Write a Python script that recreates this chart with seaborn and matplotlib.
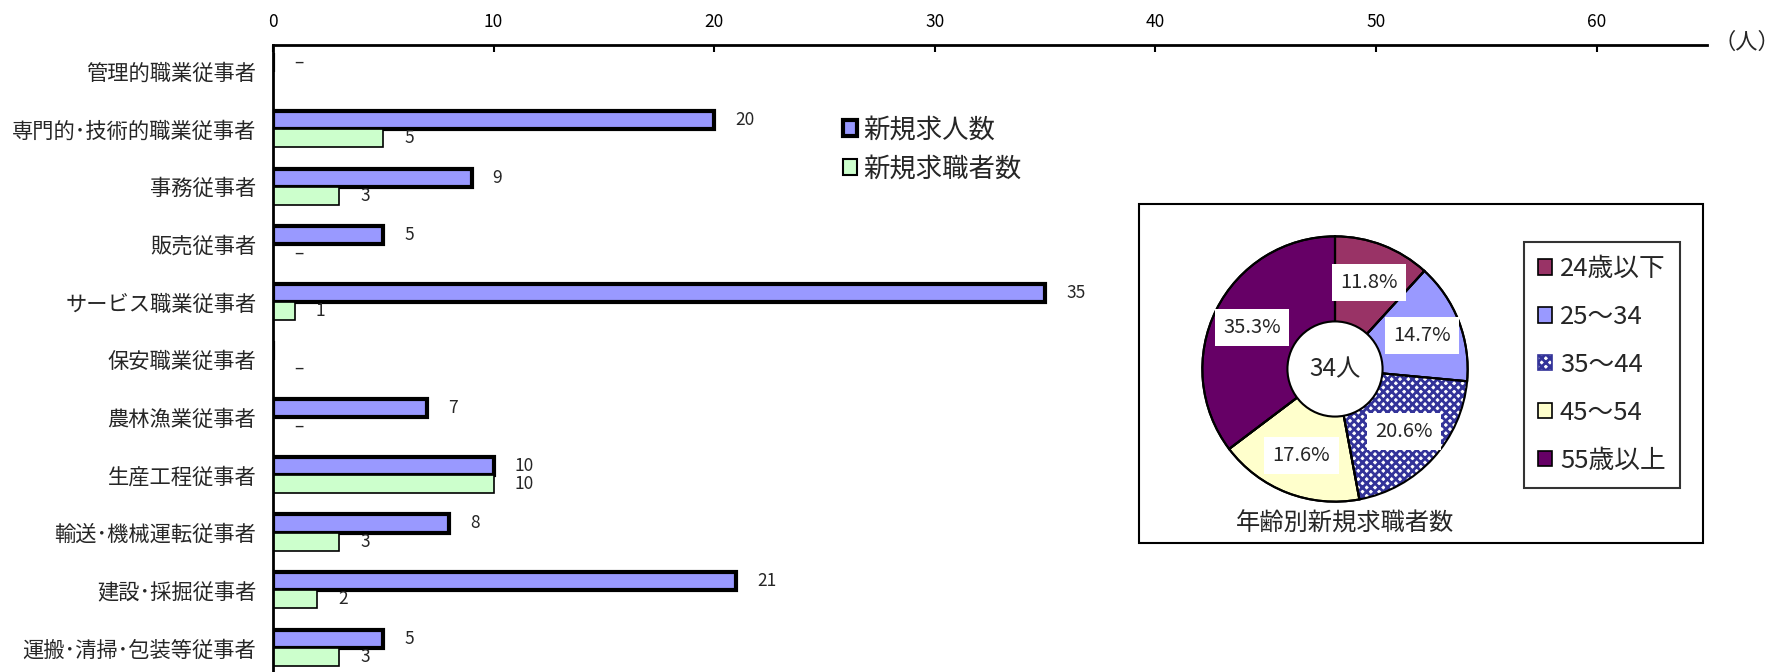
import matplotlib
matplotlib.use('Agg')
import matplotlib.pyplot as plt
from matplotlib.patches import Patch, Rectangle, Circle
import numpy as np
import pandas as pd
import seaborn as sns

categories = ['管理的職業従事者', '専門的･技術的職業従事者', '事務従事者', '販売従事者',
              'サービス職業従事者', '保安職業従事者', '農林漁業従事者', '生産工程従事者',
              '輸送･機械運転従事者', '建設･採掘従事者', '運搬･清掃･包装等従事者']
# None = no label, 0 = shown as "–"
kyujin = [0, 20, 9, 5, 35, None, 7, 10, 8, 21, 5]
kyushoku = [None, 5, 3, 0, 1, 0, 0, 10, 3, 2, 3]
series_names = ['新規求人数', '新規求職者数']

age_labels = ['24歳以下', '25～34', '35～44', '45～54', '55歳以上']
age_counts = [4, 5, 7, 6, 12]
total_label = '34人'
pie_title = '年齢別新規求職者数'

sns.set_style('white')
plt.rcParams['font.family'] = ['Noto Sans CJK JP', 'DejaVu Sans']
plt.rcParams['hatch.linewidth'] = 2.0

W, H = 1780, 672
fig = plt.figure(figsize=(W / 100, H / 100), dpi=100)

# ---- bar chart
rows = []
for c, a, b in zip(categories, kyujin, kyushoku):
    rows.append({'cat': c, 'series': series_names[0], 'val': 0 if a is None else a})
    rows.append({'cat': c, 'series': series_names[1], 'val': 0 if b is None else b})
df = pd.DataFrame(rows)

ax = fig.add_axes([273 / W, 0, (1707 - 273) / W, (672 - 45) / H])
ax.set_facecolor('none')
sns.barplot(data=df, x='val', y='cat', hue='series', hue_order=series_names,
            palette=['#9999FF', '#CCFFCC'], width=0.63, orient='h', ax=ax,
            legend=False, errorbar=None, saturation=1)

for cont, lw, raw in zip(ax.containers, [3.0, 1.2], [kyujin, kyushoku]):
    for bar in cont:
        bar.set_edgecolor('black')
        bar.set_linewidth(lw)
    labels = ['' if v is None else ('–' if v == 0 else str(v)) for v in raw]
    ax.bar_label(cont, labels=labels, padding=15, fontsize=12.5)

ax.set_xlim(0, 65)
ax.set_ylim(10.42, -0.46)
ax.set_xticks(np.arange(0, 61, 10))
ax.xaxis.tick_top()
ax.tick_params(axis='x', direction='in', length=5, width=1.5, labelsize=12.5, pad=10,
               top=True, bottom=False, colors='black')
ax.tick_params(axis='y', length=0, labelsize=15.3, pad=12)
ax.set_xlabel('')
ax.set_ylabel('')
for s in ['right', 'bottom']:
    ax.spines[s].set_visible(False)
for s in ['top', 'left']:
    ax.spines[s].set_linewidth(2)
    ax.spines[s].set_color('black')
fig.text(1747 / W, 1 - 42 / H, '（人）', fontsize=16, ha='center', va='center')

bar_handles = [Patch(facecolor='#9999FF', edgecolor='black', linewidth=3),
               Patch(facecolor='#CCFFCC', edgecolor='black', linewidth=1.5)]
fig.legend(bar_handles, series_names, loc='upper left',
           bbox_to_anchor=(832 / W, 1 - 106 / H), frameon=False, fontsize=19,
           handlelength=0.55, handleheight=0.55, handletextpad=0.25, labelspacing=0.45,
           borderaxespad=0)

# ---- inset pie
fig.patches.append(Rectangle((1139 / W, 1 - 543 / H), 564 / W, 339 / H,
                             transform=fig.transFigure, facecolor='white',
                             edgecolor='black', linewidth=1.5, zorder=-1))

r = 134
cx, cy = 1335, H - 369
axp = fig.add_axes([(cx - r) / W, (cy - r) / H, 2 * r / W, 2 * r / H])
axp.set_facecolor('none')
axp.axis('off')
pie_colors = ['#993366', '#9999FF', 'white', '#FFFFCC', '#660066']
wedges, _, autotexts = axp.pie(age_counts, colors=pie_colors, startangle=90,
                               counterclock=False, radius=0.99, autopct='%.1f%%',
                               pctdistance=0.7, textprops={'fontsize': 14.5},
                               wedgeprops={'edgecolor': 'black', 'linewidth': 1.5})
wedges[2].set_hatch('xxxx')
wedges[2].set_edgecolor('#333399')
wedges[2].set_linewidth(0)
axp.pie(age_counts, colors=['none'] * 5, startangle=90, counterclock=False,
        radius=0.99, wedgeprops={'edgecolor': 'black', 'linewidth': 1.5, 'fill': False})
for t in autotexts:
    t.set_bbox(dict(facecolor='white', edgecolor='none', pad=6))
    t.set_zorder(5)
axp.add_patch(Circle((0, 0), 0.355, facecolor='white', edgecolor='black',
                     linewidth=1.5, zorder=4))
axp.text(0, 0, total_label, ha='center', va='center', fontsize=17.5, zorder=6)
axp.set_xlim(-1, 1)
axp.set_ylim(-1, 1)
axp.set_aspect('auto')
fig.text(1345 / W, 1 - 524 / H, pie_title, ha='center', va='center', fontsize=17.5)

pie_handles = []
for i, col in enumerate(pie_colors):
    if i == 2:
        pie_handles.append(Patch(facecolor='white', edgecolor='#333399', hatch='xxxx',
                                 linewidth=1.2))
    else:
        pie_handles.append(Patch(facecolor=col, edgecolor='black', linewidth=1.2))
leg = fig.legend(pie_handles, age_labels, loc='upper left',
                 bbox_to_anchor=(1524 / W, 1 - 242 / H), frameon=True, fontsize=18.5,
                 handlelength=0.55, handleheight=0.55, handletextpad=0.3,
                 labelspacing=0.85, borderaxespad=0, borderpad=0.55, fancybox=False)
leg.get_frame().set_edgecolor('black')
leg.get_frame().set_linewidth(1.5)

fig.savefig('out.png', dpi=100)
